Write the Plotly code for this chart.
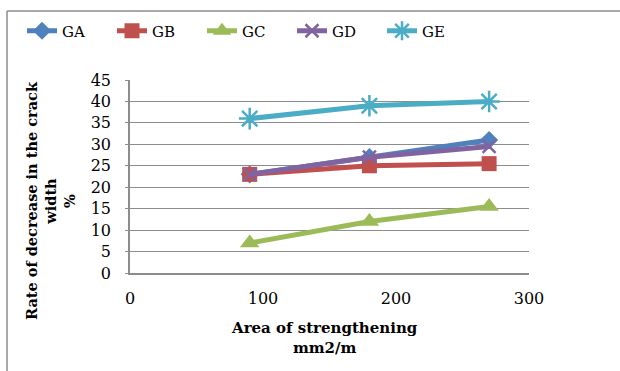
import plotly.graph_objects as go

# Strengthening area (mm2/m) and crack-width reduction (%) per group
area = [90, 180, 270]
ga = [23, 27, 31]
gb = [23, 25, 25.5]
gc = [7, 12, 15.5]
gd = [23, 27, 29.5]
ge = [36, 39, 40]

series = [
    ("GA", ga, "#4F81BD", "diamond", 14, 0),
    ("GB", gb, "#C0504D", "square", 15, 0),
    ("GC", gc, "#9BBB59", "triangle-up", 17, 0),
    ("GD", gd, "#8064A2", "x-thin-open", 13, 2.5),
    ("GE", ge, "#4BACC6", "asterisk-open", 18, 2.5),
]

FONT = "DejaVu Serif"

fig = go.Figure()
for name, vals, color, sym, size, lw in series:
    marker = dict(symbol=sym, size=size, color=color)
    if lw:
        marker["line"] = dict(color=color, width=lw)
    fig.add_trace(go.Scatter(
        x=area, y=vals, name=name, mode="lines+markers",
        line=dict(color=color, width=5),
        marker=marker,
    ))

W, H = 620, 371
L, R, T, B = 130, 91, 80, 98
pw, ph = W - L - R, H - T - B

def px_x(x):
    return (x - L) / pw

def px_y(y):
    return (H - B - y) / ph

frame = "#8C8C8C"
fig.add_shape(type="line", xref="paper", yref="paper",
              x0=px_x(7), x1=px_x(7), y0=px_y(11), y1=px_y(380),
              line=dict(color=frame, width=1.5))
fig.add_shape(type="line", xref="paper", yref="paper",
              x0=px_x(7), x1=px_x(630), y0=px_y(11), y1=px_y(11),
              line=dict(color=frame, width=1.5))

# Axis titles placed as annotations
fig.add_annotation(text="<b>Rate of decrease in the crack<br>width<br>%</b>",
                   xref="paper", yref="paper", x=px_x(50), y=px_y(201),
                   xanchor="center", yanchor="middle", textangle=-90,
                   showarrow=False, font=dict(size=14.5))
fig.add_annotation(text="<b>Area of strengthening<br>mm2/m</b>",
                   xref="paper", yref="paper", x=px_x(324), y=px_y(338),
                   xanchor="center", yanchor="middle",
                   showarrow=False, font=dict(size=15))

fig.update_layout(
    width=W, height=H,
    margin=dict(l=L, r=R, t=T, b=B),
    paper_bgcolor="white", plot_bgcolor="white",
    font=dict(family=FONT, size=15, color="black"),
    showlegend=True,
    legend=dict(orientation="h", x=px_x(22), y=px_y(31), yanchor="middle",
                xanchor="left", font=dict(size=15), itemwidth=30,
                entrywidth=45, entrywidthmode="pixels",
                bgcolor="rgba(0,0,0,0)", traceorder="normal"),
    xaxis=dict(
        range=[0, 300], tickvals=[0, 100, 200, 300],
        showgrid=False, zeroline=False,
        showline=True, linecolor=frame, linewidth=1.5,
        ticks="", tickfont=dict(size=16), ticklabelstandoff=10,
    ),
    yaxis=dict(
        range=[0, 45], tickvals=list(range(0, 50, 5)),
        showgrid=True, gridcolor=frame, gridwidth=1.2,
        zeroline=False, showline=True, linecolor=frame, linewidth=1.5,
        ticks="outside", ticklen=3, tickcolor=frame,
        tickfont=dict(size=16), ticklabelstandoff=11,
    ),
)

fig.write_html("out.html")
